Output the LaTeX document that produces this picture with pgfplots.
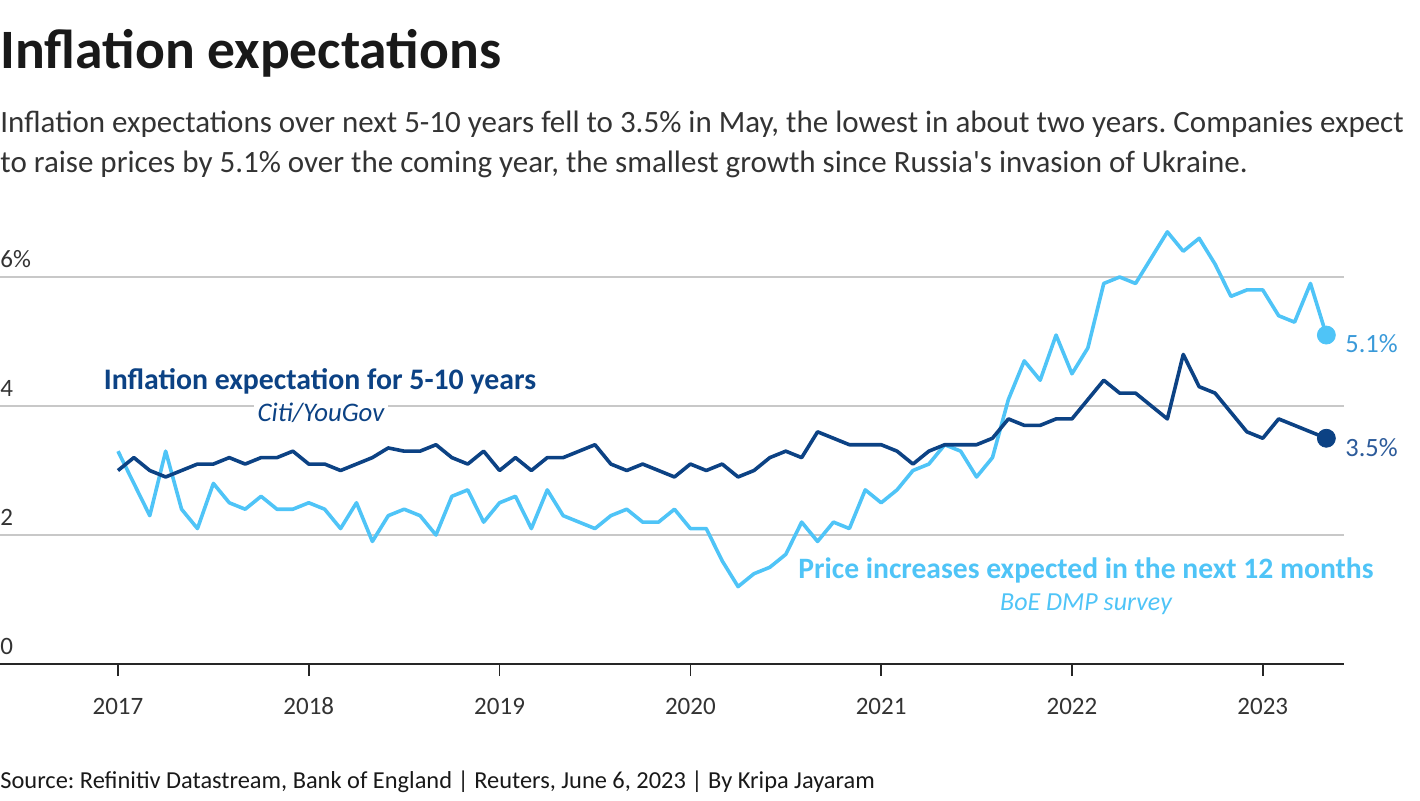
\documentclass[border=0pt]{standalone}
\usepackage{pgfplots}
\pgfplotsset{compat=1.18}
\usepackage{pgfplotstable}
\usepackage{fontspec}
\setmainfont{Carlito}
\frenchspacing
\definecolor{darkb}{HTML}{0C4284}
\definecolor{lightb}{HTML}{4FC4F7}
\definecolor{lightlab}{HTML}{3A9AD9}
\definecolor{darklab}{HTML}{2D5B9A}
\definecolor{gridc}{HTML}{C8C8C8}
\definecolor{txt}{HTML}{333333}
\pgfplotstableread{
m dark light
0 3.0 3.3
1 3.2 2.8
2 3.0 2.3
3 2.9 3.3
4 3.0 2.4
5 3.1 2.1
6 3.1 2.8
7 3.2 2.5
8 3.1 2.4
9 3.2 2.6
10 3.2 2.4
11 3.3 2.4
12 3.1 2.5
13 3.1 2.4
14 3.0 2.1
15 3.1 2.5
16 3.2 1.9
17 3.35 2.3
18 3.3 2.4
19 3.3 2.3
20 3.4 2.0
21 3.2 2.6
22 3.1 2.7
23 3.3 2.2
24 3.0 2.5
25 3.2 2.6
26 3.0 2.1
27 3.2 2.7
28 3.2 2.3
29 3.3 2.2
30 3.4 2.1
31 3.1 2.3
32 3.0 2.4
33 3.1 2.2
34 3.0 2.2
35 2.9 2.4
36 3.1 2.1
37 3.0 2.1
38 3.1 1.6
39 2.9 1.2
40 3.0 1.4
41 3.2 1.5
42 3.3 1.7
43 3.2 2.2
44 3.6 1.9
45 3.5 2.2
46 3.4 2.1
47 3.4 2.7
48 3.4 2.5
49 3.3 2.7
50 3.1 3.0
51 3.3 3.1
52 3.4 3.4
53 3.4 3.3
54 3.4 2.9
55 3.5 3.2
56 3.8 4.1
57 3.7 4.7
58 3.7 4.4
59 3.8 5.1
60 3.8 4.5
61 4.1 4.9
62 4.4 5.9
63 4.2 6.0
64 4.2 5.9
65 4.0 6.3
66 3.8 6.7
67 4.8 6.4
68 4.3 6.6
69 4.2 6.2
70 3.9 5.7
71 3.6 5.8
72 3.5 5.8
73 3.8 5.4
74 3.7 5.3
75 3.6 5.9
76 3.5 5.1
}\datatable
\pgfplotstableread{
m dark light
76 3.5 5.1
}\lasttable
\begin{document}
\begin{tikzpicture}
\path[use as bounding box] (0,0) rectangle (710pt,-400pt);
\node[anchor=base west, inner sep=0pt, text=black!90, font=\fontsize{27.8}{32}\selectfont\bfseries] at (0pt,-34pt) {Inflation expectations};
\node[anchor=base west, inner sep=0pt, text=txt, font=\fontsize{15.5}{20}\selectfont] at (0pt,-66pt) {Inflation expectations over next 5-10 years fell to 3.5\% in May, the lowest in about two years. Companies expect};
\node[anchor=base west, inner sep=0pt, text=txt, font=\fontsize{15.5}{20}\selectfont] at (0pt,-86pt) {to raise prices by 5.1\% over the coming year, the smallest growth since Russia\textquotesingle s invasion of Ukraine.};
\node[anchor=base west, inner sep=0pt, text=black!90, font=\fontsize{12.2}{14}\selectfont] at (0pt,-394pt) {Source: Refinitiv Datastream, Bank of England | Reuters, June 6, 2023 | By Kripa Jayaram};
\begin{axis}[
  at={(0pt,-332pt)}, anchor=south west,
  scale only axis, width=672pt, height=225.75pt,
  xmin=-7.42, xmax=77.11, ymin=0, ymax=7,
  axis line style={draw=none},
  ymajorgrids, grid style={gridc, line width=1pt},
  ytick={0,2,4,6}, yticklabels={}, ytick style={draw=none},
  xtick={0,12,24,36,48,60,72},
  xticklabels={2017,2018,2019,2020,2021,2022,2023},
  xtick pos=bottom, tick align=outside, major tick length=6pt,
  xtick style={black!85, line width=0.8pt},
  xticklabel style={font=\fontsize{12.5}{14}\selectfont, text=txt, anchor=base, yshift=-19pt},
  clip=false,
]
\addplot[lightb, line width=1.8pt, line join=round] table[x=m, y=light] {\datatable};
\addplot[darkb, line width=1.8pt, line join=round] table[x=m, y=dark] {\datatable};
\addplot[only marks, mark=*, mark size=4.5pt, lightb] table[x=m, y=light] {\lasttable};
\addplot[only marks, mark=*, mark size=4.5pt, darkb] table[x=m, y=dark] {\lasttable};
\draw[black!85, line width=1pt] (rel axis cs:0,0) -- (rel axis cs:1,0);
\foreach \v/\l in {0/0,2/2,4/4,6/6\%} {
  \edef\tmp{\noexpand\node[anchor=base west, inner sep=0pt, text=txt, font=\noexpand\fontsize{12.5}{14}\noexpand\selectfont] at (axis cs:-7.42,\v) [yshift=5pt] {\l};}\tmp
}
\end{axis}
\node[anchor=base, inner sep=0pt, text=darkb, font=\fontsize{14.9}{17}\selectfont\bfseries] at (160pt,-194.5pt) {Inflation expectation for 5-10 years};
\node[anchor=base, inner sep=2pt, fill=white, text=darkb, font=\fontsize{13.4}{16}\selectfont\itshape] at (160.5pt,-210.5pt) {Citi/YouGov};
\node[anchor=base, inner sep=0pt, text=lightb, font=\fontsize{14.8}{17}\selectfont\bfseries] at (543pt,-289pt) {Price increases expected in the next 12 months};
\node[anchor=base, inner sep=0pt, text=lightb, font=\fontsize{13}{16}\selectfont\itshape] at (543pt,-305pt) {BoE DMP survey};
\node[anchor=base west, inner sep=0pt, text=lightlab, font=\fontsize{13.2}{15}\selectfont] at (672.5pt,-176pt) {5.1\%};
\node[anchor=base west, inner sep=0pt, text=darklab, font=\fontsize{13.2}{15}\selectfont] at (672.5pt,-228pt) {3.5\%};
\end{tikzpicture}
\end{document}
